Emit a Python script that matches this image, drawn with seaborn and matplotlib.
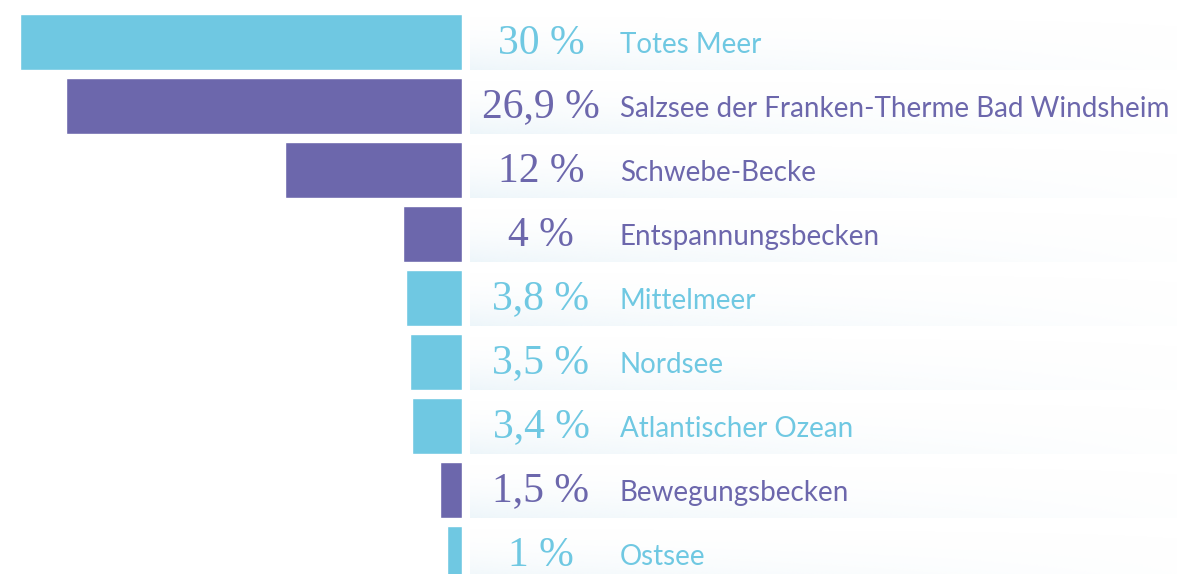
import numpy as np
import matplotlib.pyplot as plt
import seaborn as sns
from matplotlib.transforms import blended_transform_factory

# data
categories = ["Totes Meer", "Salzsee der Franken-Therme Bad Windsheim", "Schwebe-Becke",
              "Entspannungsbecken", "Mittelmeer", "Nordsee", "Atlantischer Ozean",
              "Bewegungsbecken", "Ostsee"]
values = [30, 26.9, 12, 4, 3.8, 3.5, 3.4, 1.5, 1]
kind = ["Meer", "Becken", "Becken", "Becken", "Meer", "Meer", "Meer", "Becken", "Meer"]

blue = "#6FC8E2"
purple = "#6C67AC"
kind_colors = {"Meer": blue, "Becken": purple}
colors = [kind_colors[k] for k in kind]

sns.set_theme(style="white")
W, H = 1177, 574
fig = plt.figure(figsize=(W / 100, H / 100), dpi=100)

# bars grow leftwards from x = 462px
ax = fig.add_axes([0, 0, 462 / W, 1])
sns.barplot(x=values, y=categories, hue=categories, palette=colors, orient="h",
            width=0.89, ax=ax, legend=False, saturation=1)
px_per = 442 / 30
ax.set_xlim(462 / px_per, 0)
ylim = ((H - 42) / 64, -42 / 64)
ax.set_ylim(*ylim)
ax.axis("off")

# faint gradient bands behind the labels
bg = fig.add_axes([470 / W, 0, 1 - 470 / W, 1], zorder=-1)
bg.set_xlim(0, 1)
bg.set_ylim(*ylim)
bg.axis("off")
ny, nx = 60, 200
vy = np.linspace(0, 1, ny)[:, None] ** 1.8
vx = 1 - 0.92 * np.linspace(0, 1, nx)[None, :] ** 0.7
grad = np.zeros((ny, nx, 4))
grad[..., 0] = 0xE6 / 255
grad[..., 1] = 0xF2 / 255
grad[..., 2] = 0xF8 / 255
grad[..., 3] = 0.7 * vy * vx
for i in range(len(categories)):
    bg.imshow(grad, extent=[0, 1, i + 0.445, i - 0.445], aspect="auto",
              origin="upper", interpolation="bilinear")

tr = blended_transform_factory(fig.transFigure, ax.transData)
for i, (v, c, col) in enumerate(zip(values, categories, colors)):
    pct = f"{v:g}".replace(".", ",") + " %"
    fig.text(541 / W, i + 0.02, pct, transform=tr, ha="center", va="center",
             fontsize=30, color=col, family="Liberation Serif")
    fig.text(620 / W, i + 0.05, c, transform=tr, ha="left", va="center",
             fontsize=20, color=col, family="Lato")

fig.savefig("out.png", dpi=100)
